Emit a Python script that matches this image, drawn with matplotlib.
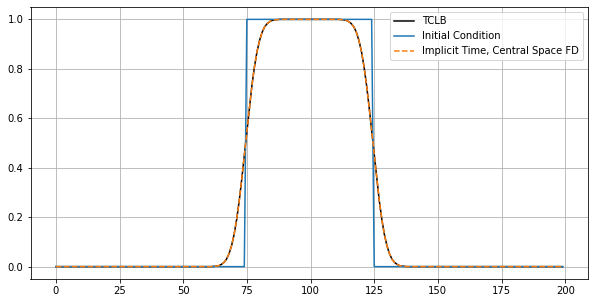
import matplotlib
matplotlib.use("Agg")
import matplotlib.pyplot as plt
import numpy as np

x = np.arange(200)

# Initial condition: step, 1 on [75, 124]
ic_zeros_left = 75
ic_ones = 50
ic_zeros_right = 75

# Diffused profile
lead_zeros = 62
rise = [0.001, 0.002, 0.004, 0.009, 0.017, 0.030, 0.052, 0.085, 0.130, 0.191,
        0.266, 0.354, 0.450, 0.550, 0.646, 0.734, 0.809, 0.870, 0.915, 0.948,
        0.970, 0.983, 0.991, 0.996, 0.998, 0.999]
plateau = 24
fall = [0.999, 0.998, 0.996, 0.991, 0.983, 0.970, 0.948, 0.915, 0.870, 0.809,
        0.734, 0.646, 0.550, 0.450, 0.354, 0.266, 0.191, 0.130, 0.085, 0.052,
        0.030, 0.017, 0.009, 0.004, 0.002, 0.001]
trail_zeros = 62

tclb = [0.0] * lead_zeros + rise + [1.0] * plateau + fall + [0.0] * trail_zeros
fd = list(tclb)
ic = [0.0] * ic_zeros_left + [1.0] * ic_ones + [0.0] * ic_zeros_right

dpi = 72
W, H = 595, 303
fig = plt.figure(figsize=(W / dpi, H / dpi), dpi=dpi)
ax = fig.add_axes([30.5 / W, 1 - 279 / H, (588 - 30.5) / W, (279 - 7) / H])

ax.plot(x, tclb, color="black", label="TCLB")
ax.plot(x, ic, color="C0", label="Initial Condition")
ax.plot(x, fd, color="C1", linestyle="--", label="Implicit Time, Central Space FD")
ax.grid(True)
ax.legend(loc="upper right")

fig.savefig("out.png", dpi=dpi)
